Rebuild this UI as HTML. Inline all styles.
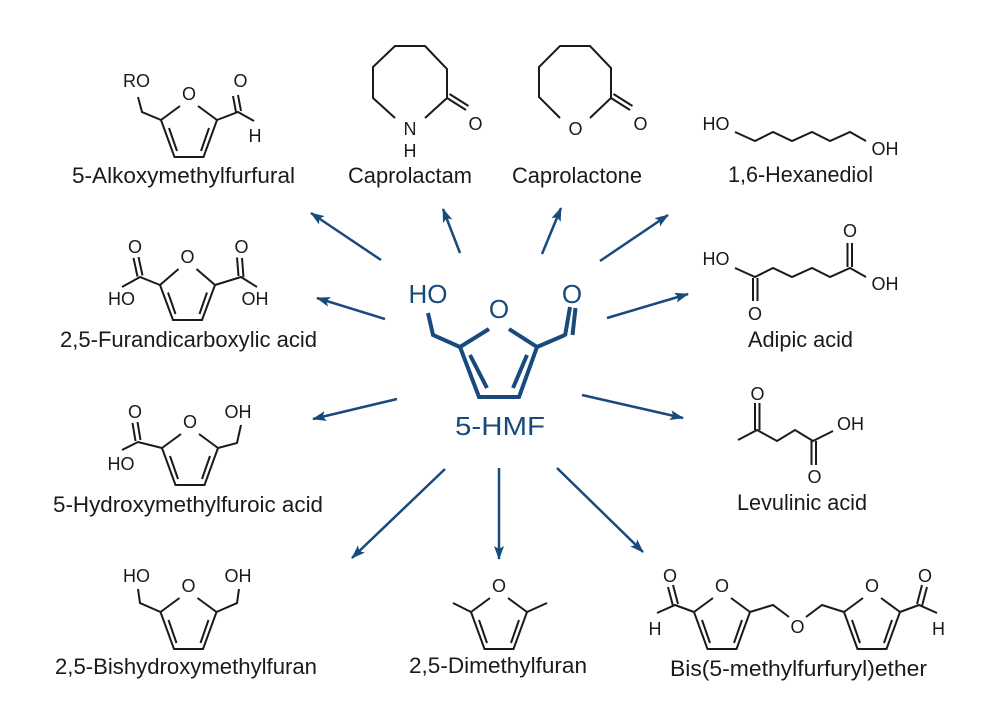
<!DOCTYPE html>
<html>
<head>
<meta charset="utf-8">
<style>
  html,body{margin:0;padding:0;background:#fff;}
  svg{display:block;}
  .lbl{font-family:"Liberation Sans",sans-serif;font-size:22px;fill:#1a1a1a;}
  .at{font-family:"Liberation Sans",sans-serif;font-size:18px;fill:#1a1a1a;text-anchor:middle;}
  .bat{font-family:"Liberation Sans",sans-serif;font-size:26px;fill:#184a7e;text-anchor:middle;}
  .k{fill:none;stroke:#1a1a1a;stroke-width:2;stroke-linejoin:miter;}
  .b{fill:none;stroke:#184a7e;stroke-width:4;stroke-linejoin:miter;}
  .ar{fill:none;stroke:#184a7e;stroke-width:2.5;}
</style>
</head>
<body>
<svg width="999" height="721" viewBox="0 0 999 721" xmlns="http://www.w3.org/2000/svg">
<defs>
  <marker id="ah" markerUnits="userSpaceOnUse" markerWidth="16" markerHeight="12" refX="13" refY="5" orient="auto">
    <path d="M0,0 L14,5 L0,10 L3,5 Z" fill="#184a7e"/>
  </marker>
</defs>
<rect width="999" height="721" fill="#fff"/>

<!-- ===== Central 5-HMF ===== -->
<path class="b" d="M428,313 L433,335 L460,347"/>
<path class="b" d="M489,329 L460,347 L479,397 L519,397 L537,347 L509,329"/>
<path class="b" d="M470,355 L487,388 M527,355 L513,388"/>
<path class="b" d="M537,347 L565,335 M565,336 L570,307 M572.5,335 L575.5,308"/>
<text class="bat" x="428" y="303">HO</text>
<text class="bat" x="499" y="318">O</text>
<text class="bat" x="572" y="303">O</text>
<text class="bat" x="500" y="435" font-size="28" textLength="90" lengthAdjust="spacingAndGlyphs">5-HMF</text>

<!-- ===== Arrows ===== -->
<line class="ar" x1="381" y1="260" x2="311" y2="213" marker-end="url(#ah)"/>
<line class="ar" x1="460" y1="253" x2="443" y2="209" marker-end="url(#ah)"/>
<line class="ar" x1="542" y1="254" x2="561" y2="208" marker-end="url(#ah)"/>
<line class="ar" x1="600" y1="261" x2="668" y2="215" marker-end="url(#ah)"/>
<line class="ar" x1="385" y1="319" x2="317" y2="298" marker-end="url(#ah)"/>
<line class="ar" x1="607" y1="318" x2="688" y2="294" marker-end="url(#ah)"/>
<line class="ar" x1="397" y1="399" x2="313" y2="419" marker-end="url(#ah)"/>
<line class="ar" x1="582" y1="395" x2="683" y2="418" marker-end="url(#ah)"/>
<line class="ar" x1="445" y1="469" x2="352" y2="558" marker-end="url(#ah)"/>
<line class="ar" x1="499" y1="468" x2="499" y2="559" marker-end="url(#ah)"/>
<line class="ar" x1="557" y1="468" x2="643" y2="552" marker-end="url(#ah)"/>

<!-- ===== 1. 5-Alkoxymethylfurfural ===== -->
<g transform="translate(189,157)">
  <path class="k" d="M-28,-37 L-14.5,0 L14.5,0 L28,-37 M-28,-37 L-9,-51 M28,-37 L9,-51 M-20,-29 L-12,-6 M20,-29 L12,-6"/>
  <text class="at" x="0" y="-57">O</text>
</g>
<path class="k" d="M138,97 L142,112 L161,120"/>
<path class="k" d="M217,120 L238,112 L254,121 M236,112 L233,96 M241,111 L238,95"/>
<text class="at" x="136.5" y="87">RO</text>
<text class="at" x="240.5" y="87">O</text>
<text class="at" x="255" y="142">H</text>
<text class="lbl" x="72" y="183" textLength="223" lengthAdjust="spacingAndGlyphs">5-Alkoxymethylfurfural</text>

<!-- ===== 2. Caprolactam ===== -->
<path class="k" d="M395,118 L373,98 L373,67 L395,46 L425,46 L447,69 L447,98 L425,118"/>
<path class="k" d="M447,98 L466,110 M449.5,94 L468.5,106"/>
<text class="at" x="410" y="135">N</text>
<text class="at" x="410" y="157">H</text>
<text class="at" x="475.5" y="130">O</text>
<text class="lbl" x="348" y="183" textLength="124" lengthAdjust="spacingAndGlyphs">Caprolactam</text>

<!-- ===== 3. Caprolactone ===== -->
<path class="k" d="M560,118 L539,97 L539,67 L560,46 L590,46 L611,68 L611,98 L590,118"/>
<path class="k" d="M611,98 L630,110 M613.5,94 L632.5,106"/>
<text class="at" x="575.5" y="135">O</text>
<text class="at" x="640.5" y="130">O</text>
<text class="lbl" x="512" y="183" textLength="130" lengthAdjust="spacingAndGlyphs">Caprolactone</text>

<!-- ===== 4. 1,6-Hexanediol ===== -->
<path class="k" d="M735,132 L755,141 L773,132 L792,141 L812,132 L830,141 L850,132 L866,141"/>
<text class="at" x="716" y="130">HO</text>
<text class="at" x="885" y="155">OH</text>
<text class="lbl" x="728" y="182" textLength="145" lengthAdjust="spacingAndGlyphs">1,6-Hexanediol</text>

<!-- ===== 5. Adipic acid ===== -->
<path class="k" d="M735,268 L755,277 L773,268 L792,277 L812,268 L830,277 L850,268 L866,277"/>
<path class="k" d="M753,278 L753,301 M757.5,278 L757.5,301"/>
<path class="k" d="M847.5,267 L847.5,243 M852,267 L852,243"/>
<text class="at" x="716" y="265">HO</text>
<text class="at" x="755" y="320">O</text>
<text class="at" x="850" y="237">O</text>
<text class="at" x="885" y="290">OH</text>
<text class="lbl" x="748" y="347" textLength="105" lengthAdjust="spacingAndGlyphs">Adipic acid</text>

<!-- ===== 6. 2,5-Furandicarboxylic acid ===== -->
<g transform="translate(187.5,320)">
  <path class="k" d="M-27.5,-35 L-14.5,0 L14.5,0 L27.5,-35 M-27.5,-35 L-9,-51 M27.5,-35 L9,-51 M-19.5,-27.5 L-12,-6 M19.5,-27.5 L12,-6"/>
  <text class="at" x="0" y="-57">O</text>
</g>
<path class="k" d="M160,285 L140,277 L122,287 M137.5,276.5 L133.5,258 M142.5,275.5 L138.5,257"/>
<path class="k" d="M215,285 L241,277 L257,287 M238.5,276 L237,257.5 M243.5,277 L242,258"/>
<text class="at" x="135" y="253">O</text>
<text class="at" x="241.5" y="253">O</text>
<text class="at" x="121.5" y="305">HO</text>
<text class="at" x="255" y="305">OH</text>
<text class="lbl" x="60" y="347" textLength="257" lengthAdjust="spacingAndGlyphs">2,5-Furandicarboxylic acid</text>

<!-- ===== 7. 5-Hydroxymethylfuroic acid ===== -->
<g transform="translate(190,485)">
  <path class="k" d="M-28,-37 L-14.5,0 L14.5,0 L28,-37 M-28,-37 L-9,-51 M28,-37 L9,-51 M-20,-29 L-12,-6 M20,-29 L12,-6"/>
  <text class="at" x="0" y="-57">O</text>
</g>
<path class="k" d="M162,448 L138,442 L122,450 M135.5,441 L132.5,423 M140.5,440 L137.5,422"/>
<path class="k" d="M218,448 L237,443 L241,425"/>
<text class="at" x="135" y="418">O</text>
<text class="at" x="121" y="470">HO</text>
<text class="at" x="238" y="418">OH</text>
<text class="lbl" x="53" y="512" textLength="270" lengthAdjust="spacingAndGlyphs">5-Hydroxymethylfuroic acid</text>

<!-- ===== 8. Levulinic acid ===== -->
<path class="k" d="M738,440 L757,430 L777,441 L795,430 L813,441 L833,431"/>
<path class="k" d="M755,430 L755,403 M759.5,430 L759.5,403"/>
<path class="k" d="M811.5,441 L811.5,465 M816,441 L816,465"/>
<text class="at" x="757.5" y="400">O</text>
<text class="at" x="814.5" y="483">O</text>
<text class="at" x="850.5" y="430">OH</text>
<text class="lbl" x="737" y="510" textLength="130" lengthAdjust="spacingAndGlyphs">Levulinic acid</text>

<!-- ===== 9. 2,5-Bishydroxymethylfuran ===== -->
<g transform="translate(188.5,649)">
  <path class="k" d="M-28,-37 L-14.5,0 L14.5,0 L28,-37 M-28,-37 L-9,-51 M28,-37 L9,-51 M-20,-29 L-12,-6 M20,-29 L12,-6"/>
  <text class="at" x="0" y="-57">O</text>
</g>
<path class="k" d="M138,589 L140,603 L160.5,612 M216.5,612 L237,603 L239,589"/>
<text class="at" x="136.5" y="582">HO</text>
<text class="at" x="238" y="582">OH</text>
<text class="lbl" x="55" y="674" textLength="262" lengthAdjust="spacingAndGlyphs">2,5-Bishydroxymethylfuran</text>

<!-- ===== 10. 2,5-Dimethylfuran ===== -->
<g transform="translate(499,649)">
  <path class="k" d="M-28,-37 L-14.5,0 L14.5,0 L28,-37 M-28,-37 L-9,-51 M28,-37 L9,-51 M-20,-29 L-12,-6 M20,-29 L12,-6"/>
  <text class="at" x="0" y="-57">O</text>
</g>
<path class="k" d="M471,612 L453,603 M527,612 L547,603"/>
<text class="lbl" x="409" y="673" textLength="178" lengthAdjust="spacingAndGlyphs">2,5-Dimethylfuran</text>

<!-- ===== 11. Bis(5-methylfurfuryl)ether ===== -->
<g transform="translate(722,649)">
  <path class="k" d="M-28,-37 L-14.5,0 L14.5,0 L28,-37 M-28,-37 L-9,-51 M28,-37 L9,-51 M-20,-29 L-12,-6 M20,-29 L12,-6"/>
  <text class="at" x="0" y="-57">O</text>
</g>
<g transform="translate(872,649)">
  <path class="k" d="M-28,-37 L-14.5,0 L14.5,0 L28,-37 M-28,-37 L-9,-51 M28,-37 L9,-51 M-20,-29 L-12,-6 M20,-29 L12,-6"/>
  <text class="at" x="0" y="-57">O</text>
</g>
<path class="k" d="M694,612 L675,605 L657,613 M673,606 L668,587 M678,604 L673,585"/>
<path class="k" d="M750,612 L773,605 L789,617 M806,617 L822,605 L844,612"/>
<path class="k" d="M900,612 L919,605 L937,613 M917,604 L922,585 M922,606 L927,587"/>
<text class="at" x="670" y="582">O</text>
<text class="at" x="655" y="635">H</text>
<text class="at" x="797.5" y="633">O</text>
<text class="at" x="925" y="582">O</text>
<text class="at" x="938.5" y="635">H</text>
<text class="lbl" x="670" y="676" textLength="257" lengthAdjust="spacingAndGlyphs">Bis(5-methylfurfuryl)ether</text>
</svg>
</body>
</html>
